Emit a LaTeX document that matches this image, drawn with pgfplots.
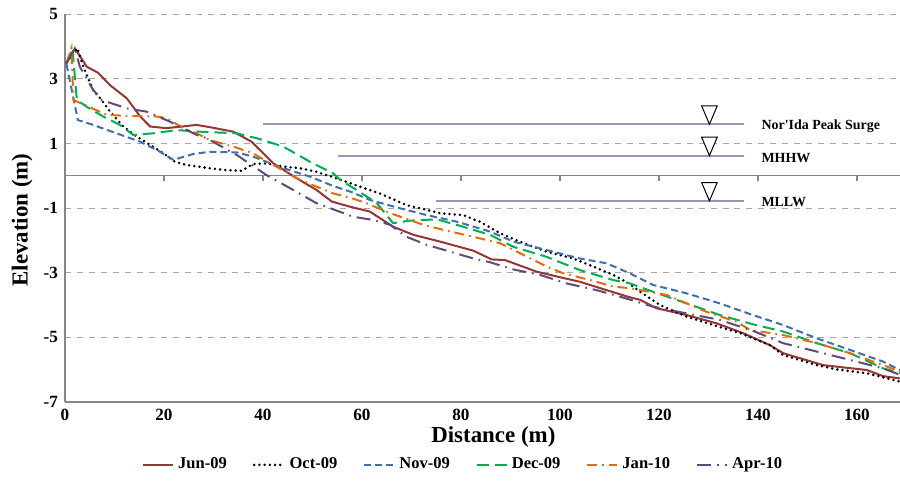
\documentclass[border=0pt]{standalone}
\usepackage{fontspec}
\setmainfont{Liberation Serif}
\usepackage{pgfplots}
\pgfplotsset{compat=1.18}

\definecolor{junred}{HTML}{953735}
\definecolor{novblue}{HTML}{3F6FB0}
\definecolor{decgreen}{HTML}{00B050}
\definecolor{janorange}{HTML}{E46C0A}
\definecolor{aprpurple}{HTML}{604A7B}
\definecolor{refcol}{HTML}{9D93B8}
\definecolor{axisgray}{HTML}{868686}
\definecolor{gridgray}{HTML}{A6A6A6}

% open triangle pointing down, tip on the point
\pgfdeclareplotmark{dtri}{%
  \pgfpathmoveto{\pgfpoint{0bp}{0bp}}%
  \pgfpathlineto{\pgfpoint{-3.9bp}{9.2bp}}%
  \pgfpathlineto{\pgfpoint{3.9bp}{9.2bp}}%
  \pgfpathclose
  \pgfusepathqfillstroke}

\begin{document}
\begin{tikzpicture}
\begin{axis}[
  scale only axis,
  width=417.5bp, height=194bp,
  xmin=0, xmax=168.7, ymin=-7, ymax=5,
  xtick={0,20,...,160}, ytick={-7,-5,...,5},
  axis x line*=bottom, axis y line*=left,
  axis line style={-, draw=axisgray, line width=0.6bp},
  major tick length=0pt,
  ymajorgrids,
  grid style={dashed, gridgray, line width=0.5bp},
  /pgf/number format/assume math mode=true,
  tick label style={font=\fontsize{8.6}{10}\selectfont\bfseries},
  xlabel={Distance (m)},
  ylabel={Elevation (m)},
  label style={font=\fontsize{11.5}{13}\selectfont\bfseries},
  xlabel style={at={(axis description cs:0.513,-0.09)}, anchor=center},
  ylabel style={at={(axis description cs:-0.0515,0.469)}, anchor=center},
  legend image code/.code={\draw[#1] (0bp,0bp) -- (15bp,0bp);},
  legend style={at={(0.478,-0.162)}, anchor=center, legend columns=6,
    draw=none, font=\fontsize{8.3}{10}\selectfont\bfseries,
    /tikz/every odd column/.append style={inner xsep=0.5bp},
    /tikz/every even column/.append style={column sep=11bp}},
]

% zero line with its ticks
\draw[axisgray, line width=0.6bp] (axis cs:0,0) -- (axis cs:168.7,0);
\pgfplotsinvokeforeach{20,40,60,80,100,120,140,160}{
  \draw[axisgray, line width=0.6bp] (axis cs:#1,0) -- ([yshift=-2.5bp]axis cs:#1,0);
}

% reference water levels
\addplot[refcol, line width=1bp, forget plot] coordinates {(40,1.59) (137.2,1.59)};
\addplot[refcol, line width=1bp, forget plot] coordinates {(55.2,0.62) (137.2,0.62)};
\addplot[refcol, line width=1bp, forget plot] coordinates {(75,-0.78) (137.2,-0.78)};
\addplot[only marks, mark=dtri, mark options={draw=black, fill=white, line width=0.5bp}, forget plot]
  coordinates {(130.2,1.59) (130.2,0.62) (130.2,-0.78)};

\addplot[junred, line width=1bp] coordinates {
(0.3,3.48)(2,3.94)(4.4,3.37)(6.7,3.18)(9.1,2.8)(12.5,2.39)(15.2,1.83)(17.2,1.52)
(20.5,1.47)(26.6,1.57)(29.3,1.5)(34,1.36)(37.7,1.05)(42.1,0.38)(46.8,-0.08)
(50.8,-0.44)(53.9,-0.8)(57.6,-0.96)(61.6,-1.11)(66.3,-1.58)(70.4,-1.83)(75.8,-2.04)
(82.5,-2.32)(86.2,-2.59)(88.9,-2.61)(95.3,-2.97)(100,-3.14)(104,-3.28)(108.8,-3.51)
(114.1,-3.76)(116.2,-3.84)(119.5,-4.1)(125.6,-4.31)(131.7,-4.57)(137,-4.87)
(142.4,-5.24)(145.1,-5.49)(153.2,-5.86)(162,-6.01)(165.3,-6.2)(168.7,-6.27)};
\addlegendentry{Jun-09}

\addplot[black, line width=1.4bp, line cap=round, dash pattern=on 0bp off 2.6bp] coordinates {
(0.3,3.5)(2.5,3.94)(3.7,3.37)(5.7,2.65)(7.4,2.34)(9.1,1.98)(11.8,1.52)(14.5,1.21)
(17.2,0.95)(19.9,0.69)(22.2,0.43)(24.6,0.33)(29.3,0.23)(32,0.18)(35.7,0.15)(38,0.36)
(40.7,0.38)(44.1,0.28)(47.5,0.23)(50.8,0.12)(55.6,-0.12)(59.6,-0.34)(63.6,-0.55)
(69,-0.91)(73.1,-1.06)(75.8,-1.16)(80.5,-1.22)(82.5,-1.35)(83.8,-1.42)(87.9,-1.78)
(91.9,-2.04)(97.3,-2.35)(102.7,-2.56)(106.7,-2.81)(110.8,-3.07)(114.1,-3.35)
(116.2,-3.59)(120.2,-4.0)(125.6,-4.36)(131,-4.62)(136.4,-4.87)(142.4,-5.24)
(145.1,-5.55)(151.9,-5.86)(155.9,-5.99)(162,-6.11)(168.7,-6.37)};
\addlegendentry{Oct-09}

\addplot[novblue, line width=1bp, dash pattern=on 3.5bp off 2bp] coordinates {
(0.3,3.45)(2.6,1.72)(5.7,1.57)(10.4,1.31)(15.2,1.05)(19.2,0.74)(21.9,0.49)(25.9,0.67)
(29.3,0.74)(34.7,0.72)(38,0.59)(40.7,0.43)(44.8,0.2)(49.5,-0.03)(54.2,-0.32)
(57.6,-0.49)(61.6,-0.75)(67.7,-1.01)(73.1,-1.22)(79.1,-1.42)(85.9,-1.73)(90.6,-2.04)
(97.3,-2.3)(104,-2.56)(109.4,-2.71)(114.1,-3.02)(118.8,-3.38)(125.6,-3.64)
(132.3,-3.95)(138.4,-4.28)(145.1,-4.62)(151.9,-5.03)(158.6,-5.39)(165.3,-5.75)
(168.7,-6.01)};
\addlegendentry{Nov-09}

\addplot[decgreen, line width=1bp, dash pattern=on 6bp off 3bp] coordinates {
(0.3,3.48)(1.5,3.94)(2.4,2.34)(4.4,2.13)(7.7,1.83)(11.1,1.57)(13.8,1.26)(17.8,1.31)
(22.6,1.41)(27.3,1.36)(34.7,1.31)(39.4,1.13)(44.1,0.9)(49.5,0.43)(54.2,0.07)
(55.6,-0.13)(58.9,-0.44)(63,-0.85)(66.3,-1.47)(69.7,-1.39)(75.1,-1.35)(79.1,-1.52)
(85.9,-1.83)(90.6,-2.2)(97.3,-2.51)(104,-2.92)(110.8,-3.23)(114.1,-3.33)(118.8,-3.59)
(125.6,-3.95)(132.3,-4.31)(139.1,-4.6)(145.1,-4.82)(151.9,-5.18)(158.6,-5.49)
(165.3,-5.96)(168.7,-6.11)};
\addlegendentry{Dec-09}

\addplot[janorange, line width=1bp, dash pattern=on 5bp off 2.5bp on 0.8bp off 2.5bp] coordinates {
(0.3,3.48)(1.3,3.94)(1.7,2.34)(4,2.19)(8.4,1.88)(12.5,1.85)(18.5,1.83)(20.5,1.78)
(23.9,1.47)(26.6,1.31)(29.3,1.1)(34,0.9)(38,0.69)(42.1,0.33)(47.5,-0.13)(54.2,-0.55)
(57.6,-0.68)(60.9,-0.85)(65.7,-1.16)(72.4,-1.52)(77.1,-1.7)(82.5,-1.89)(87.9,-2.09)
(92.6,-2.45)(97.3,-2.81)(100.7,-3.02)(106.1,-3.23)(110.8,-3.43)(114.1,-3.48)
(121.6,-3.69)(125.6,-3.95)(129.6,-4.21)(135.7,-4.52)(138.4,-4.77)(145.1,-4.93)
(151.9,-5.18)(158.6,-5.49)(165.3,-5.86)(168.7,-6.06)};
\addlegendentry{Jan-10}

\addplot[aprpurple, line width=1bp, dash pattern=on 7bp off 3bp on 0.8bp off 3bp] coordinates {
(0.3,3.48)(2,3.94)(3,3.37)(5.7,2.65)(7.4,2.34)(12.5,2.08)(16.5,1.98)(21.2,1.67)
(26.6,1.26)(28.6,1.16)(34.7,0.64)(40.7,0.02)(46.1,-0.44)(50.8,-0.85)(55.6,-1.12)
(58.2,-1.27)(62.3,-1.37)(65.7,-1.52)(69,-1.89)(73.1,-2.14)(77.8,-2.35)(82.5,-2.56)
(85.9,-2.68)(90.6,-2.9)(96,-3.07)(101.3,-3.33)(107.4,-3.54)(112.1,-3.74)
(118.8,-4.05)(125.6,-4.26)(132.3,-4.46)(139,-4.8)(145.1,-5.18)(151.9,-5.44)
(158.6,-5.7)(165.3,-5.96)(168.7,-6.16)};
\addlegendentry{Apr-10}

\node[anchor=west, font=\fontsize{7}{8}\selectfont\bfseries] at (axis cs:139.3,1.52) {Nor\textquotesingle Ida Peak Surge};
\node[anchor=west, font=\fontsize{7}{8}\selectfont\bfseries] at (axis cs:139.3,0.55) {MHHW};
\node[anchor=west, font=\fontsize{7}{8}\selectfont\bfseries] at (axis cs:139.3,-0.83) {MLLW};
\end{axis}
\pgfresetboundingbox
\path ([xshift=-32.5bp,yshift=-43bp]current axis.south west) rectangle ([yshift=7bp]current axis.north east);
\end{tikzpicture}
\end{document}
